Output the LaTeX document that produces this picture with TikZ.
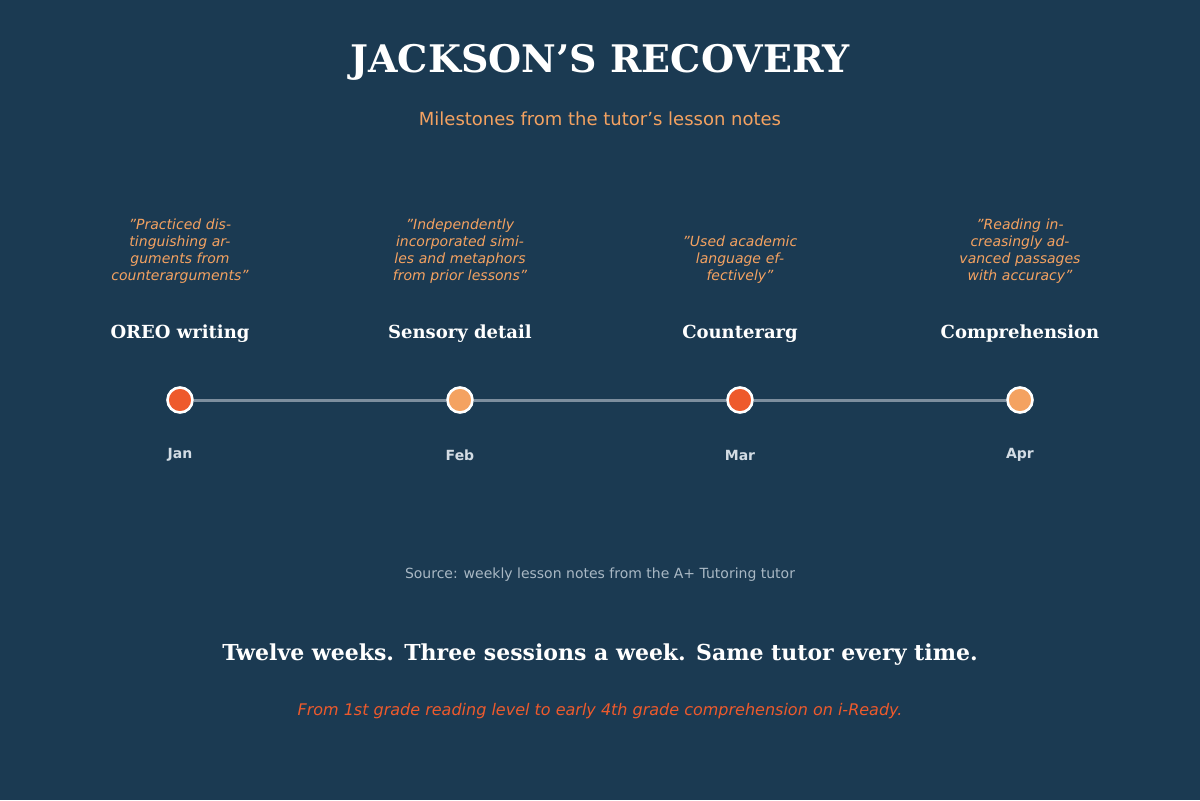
\documentclass[tikz,border=0pt]{standalone}
\usepackage{fontspec}
\setmainfont{DejaVu Serif}
\setsansfont{DejaVu Sans}
\definecolor{bg}{HTML}{1B3A52}
\definecolor{peach}{HTML}{F4A261}
\definecolor{red}{HTML}{EE5A2C}
\definecolor{lineg}{HTML}{7D8E9E}
\definecolor{month}{HTML}{D3DCE4}
\definecolor{src}{HTML}{A9B8C4}
\begin{document}
\begin{tikzpicture}[x=0.5pt,y=-0.5pt,
 quote/.style={text=peach,font=\sffamily\itshape\fontsize{7}{8.5}\selectfont,align=center,text width=70pt,anchor=south},
 lab/.style={text=white,font=\bfseries\fontsize{9}{11}\selectfont},
 mon/.style={text=month,font=\sffamily\bfseries\fontsize{7}{8}\selectfont},
 dot/.style={circle,draw=white,line width=1.3pt,minimum size=12.5pt,inner sep=0pt}]
\fill[bg] (0,0) rectangle (1200,800);
\useasboundingbox (0,0) rectangle (1200,800);
\node[text=white,font=\bfseries\fontsize{19}{22}\selectfont] (title) at (600,62) {JACKSON'S RECOVERY};
\node[text=peach,font=\sffamily\fontsize{9}{11}\selectfont] (sub) at (600,119) {Milestones from the tutor's lesson notes};
\node[dot,fill=red] (d1) at (180,400) {};
\node[dot,fill=peach] (d2) at (460,400) {};
\node[dot,fill=red] (d3) at (740,400) {};
\node[dot,fill=peach] (d4) at (1020,400) {};
\draw[lineg,line width=1.5pt] (d1)--(d2) (d2)--(d3) (d3)--(d4);
\node[lab] (l1) at (180,334) {OREO writing};
\node[lab] (l2) at (460,334) {Sensory detail};
\node[lab] (l3) at (740,334) {Counterarg};
\node[lab] (l4) at (1020,334) {Comprehension};
\node[quote] (q1) at (180,290) {"Practiced distinguishing arguments from counterarguments"};
\node[quote] (q2) at (460,290) {"Independently incorporated similes and metaphors from prior lessons"};
\node[quote] (q3) at (740,290) {"Used academic language effectively"};
\node[quote] (q4) at (1020,290) {"Reading increasingly advanced passages with accuracy"};
\node[mon] (m1) at (180,455) {Jan};
\node[mon] (m2) at (460,455) {Feb};
\node[mon] (m3) at (740,455) {Mar};
\node[mon] (m4) at (1020,455) {Apr};
\node[text=src,font=\sffamily\fontsize{7}{8}\selectfont] (source) at (600,575) {Source: weekly lesson notes from the A+ Tutoring tutor};
\node[text=white,font=\bfseries\fontsize{11}{13}\selectfont] (tag) at (600,655) {Twelve weeks. Three sessions a week. Same tutor every time.};
\node[text=red,font=\sffamily\itshape\fontsize{8}{10}\selectfont] (foot) at (600,711) {From 1st grade reading level to early 4th grade comprehension on i-Ready.};
\end{tikzpicture}
\end{document}
